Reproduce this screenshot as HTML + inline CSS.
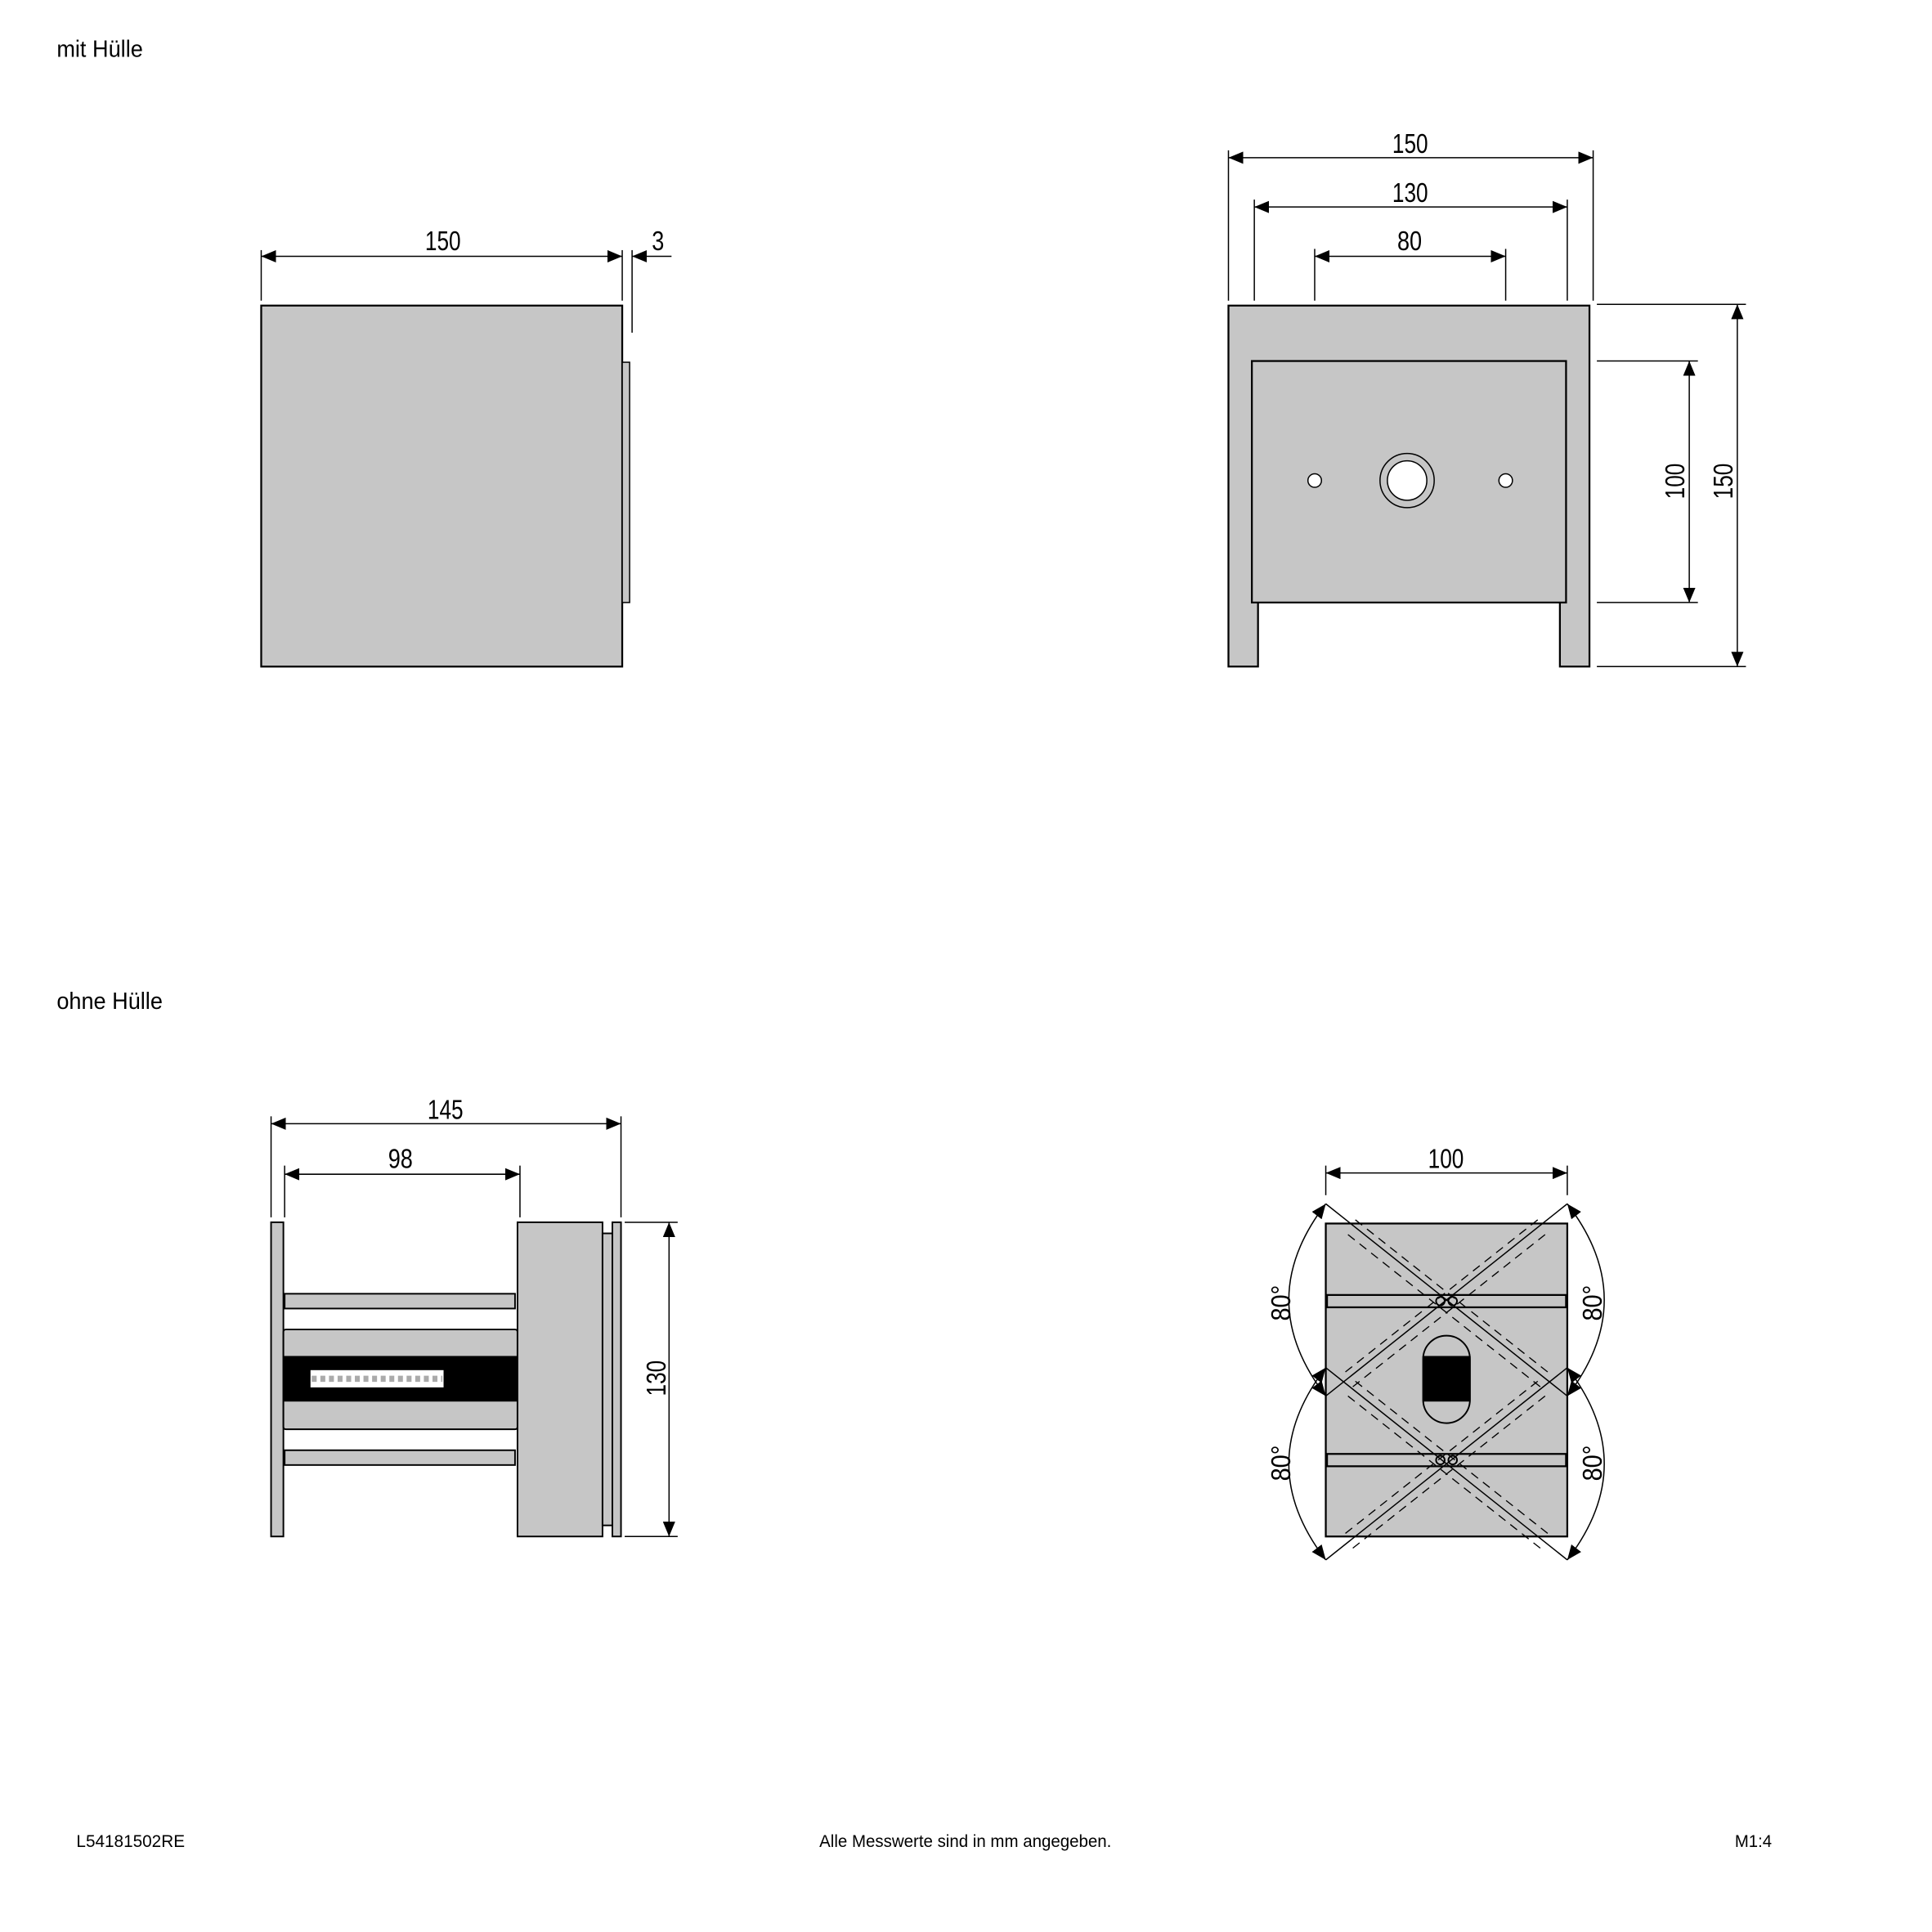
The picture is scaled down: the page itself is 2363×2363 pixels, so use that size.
<!DOCTYPE html>
<html><head><meta charset="utf-8"><style>
html,body{margin:0;padding:0;background:#fff;}
svg{display:block;}
text{font-family:"Liberation Sans",sans-serif;fill:#000;}
.d{font-size:22px;}
</style></head><body>
<svg width="2363" height="2363" viewBox="0 0 1568 1568" xmlns="http://www.w3.org/2000/svg">
<defs>
<marker id="a" viewBox="0 0 12 10" refX="12" refY="5" markerWidth="12" markerHeight="10" markerUnits="userSpaceOnUse" orient="auto-start-reverse"><path d="M0,0 L12,5 L0,10 Z" fill="#000"/></marker>
</defs>
<g stroke="#000" stroke-width="1" fill="none">
<!-- top-left -->
<line x1="212" y1="203" x2="212" y2="244"/><line x1="505" y1="203" x2="505" y2="244"/><line x1="513" y1="203" x2="513" y2="270"/>
<line x1="212" y1="208" x2="505" y2="208" marker-start="url(#a)" marker-end="url(#a)"/>
<line x1="545" y1="208" x2="513" y2="208" marker-end="url(#a)"/>
<rect x="212" y="248" width="293" height="293" fill="#c6c6c6" stroke-width="1.5"/>
<rect x="505" y="294" width="6" height="195" fill="#c6c6c6"/>
<!-- top-right -->
<line x1="997" y1="122" x2="997" y2="244"/><line x1="1293" y1="122" x2="1293" y2="244"/>
<line x1="1018" y1="162" x2="1018" y2="244"/><line x1="1272" y1="162" x2="1272" y2="244"/>
<line x1="1067" y1="202" x2="1067" y2="244"/><line x1="1222" y1="202" x2="1222" y2="244"/>
<line x1="997" y1="128" x2="1293" y2="128" marker-start="url(#a)" marker-end="url(#a)"/>
<line x1="1018" y1="168" x2="1272" y2="168" marker-start="url(#a)" marker-end="url(#a)"/>
<line x1="1067" y1="208" x2="1222" y2="208" marker-start="url(#a)" marker-end="url(#a)"/>
<path d="M997,248 H1290 V541 H1266 V489 H1021 V541 H997 Z" fill="#c6c6c6" stroke-width="1.5"/>
<rect x="1016" y="293" width="255" height="196" fill="#c6c6c6" stroke-width="1.5"/>
<circle cx="1142" cy="390" r="22"/><circle cx="1142" cy="390" r="16" fill="#fff"/>
<circle cx="1067" cy="390" r="5.5" fill="#fff"/><circle cx="1222" cy="390" r="5.5" fill="#fff"/>
<line x1="1296" y1="293" x2="1378" y2="293"/><line x1="1296" y1="489" x2="1378" y2="489"/>
<line x1="1296" y1="247" x2="1417" y2="247"/><line x1="1296" y1="541" x2="1417" y2="541"/>
<line x1="1371" y1="293" x2="1371" y2="489" marker-start="url(#a)" marker-end="url(#a)"/>
<line x1="1410" y1="247" x2="1410" y2="541" marker-start="url(#a)" marker-end="url(#a)"/>
<!-- bottom-left -->
<line x1="220" y1="906" x2="220" y2="988"/><line x1="504" y1="906" x2="504" y2="988"/>
<line x1="231" y1="946" x2="231" y2="988"/><line x1="422" y1="946" x2="422" y2="988"/>
<line x1="220" y1="912" x2="504" y2="912" marker-start="url(#a)" marker-end="url(#a)"/>
<line x1="231" y1="953" x2="422" y2="953" marker-start="url(#a)" marker-end="url(#a)"/>
<rect x="220" y="992" width="10" height="255" fill="#c6c6c6" stroke-width="1.3"/>
<rect x="231" y="1050" width="187" height="12" fill="#c6c6c6" stroke-width="1.3"/>
<rect x="231" y="1177" width="187" height="12" fill="#c6c6c6" stroke-width="1.3"/>
<rect x="230" y="1079" width="190" height="81" rx="2" fill="#c6c6c6" stroke-width="1.3"/>
<rect x="230" y="1101" width="190" height="36" fill="#000"/>
<rect x="252" y="1112" width="108" height="14" fill="#fff" stroke="none"/>
<line x1="253" y1="1119" x2="359" y2="1119" stroke="#aaa" stroke-width="5" stroke-dasharray="4,3"/>
<rect x="420" y="992" width="69" height="255" fill="#c6c6c6" stroke-width="1.3"/>
<rect x="489" y="1001" width="8" height="237" fill="#c6c6c6" stroke-width="1.3"/>
<rect x="497" y="992" width="7" height="255" fill="#c6c6c6" stroke-width="1.3"/>
<line x1="507" y1="992" x2="550" y2="992"/><line x1="507" y1="1247" x2="550" y2="1247"/>
<line x1="543" y1="992" x2="543" y2="1247" marker-start="url(#a)" marker-end="url(#a)"/>
<!-- bottom-right -->
<line x1="1076" y1="946" x2="1076" y2="970"/><line x1="1272" y1="946" x2="1272" y2="970"/>
<line x1="1076" y1="952" x2="1272" y2="952" marker-start="url(#a)" marker-end="url(#a)"/>
<rect x="1076" y="993" width="196" height="254" fill="#c6c6c6" stroke-width="1.5"/>
<rect x="1077" y="1051" width="194" height="10" fill="#c6c6c6" stroke-width="1.5"/>
<rect x="1077" y="1180" width="194" height="10" fill="#c6c6c6" stroke-width="1.5"/>
<path d="M1155,1103 A19,19 0 0 1 1193,1103 V1136 A19,19 0 0 1 1155,1136 Z" fill="#c6c6c6" stroke-width="1.3"/>
<rect x="1155" y="1101" width="38" height="36" fill="#000"/>
<g stroke-width="1">
<line x1="1076" y1="977" x2="1272" y2="1133"/><line x1="1272" y1="977" x2="1076" y2="1133"/>
<line x1="1076" y1="1110" x2="1272" y2="1266"/><line x1="1272" y1="1110" x2="1076" y2="1266"/>
</g>
<g stroke-width="0.9" stroke-dasharray="7,5">
<line x1="1100" y1="990" x2="1258" y2="1115"/><line x1="1094" y1="1002" x2="1252" y2="1127"/>
<line x1="1248" y1="990" x2="1090" y2="1115"/><line x1="1254" y1="1002" x2="1096" y2="1127"/>
<line x1="1100" y1="1121" x2="1258" y2="1246"/><line x1="1094" y1="1133" x2="1252" y2="1258"/>
<line x1="1248" y1="1121" x2="1090" y2="1246"/><line x1="1254" y1="1133" x2="1096" y2="1258"/>
</g>
<circle cx="1169" cy="1056" r="3.5" stroke-width="1.3"/><circle cx="1179" cy="1056" r="3.5" stroke-width="1.3"/>
<circle cx="1169" cy="1185" r="3.5" stroke-width="1.3"/><circle cx="1179" cy="1185" r="3.5" stroke-width="1.3"/>
<path d="M1076,977 Q1016,1055 1076,1133" marker-start="url(#a)" marker-end="url(#a)"/>
<path d="M1076,1110 Q1016,1188 1076,1266" marker-start="url(#a)" marker-end="url(#a)"/>
<path d="M1272,977 Q1332,1055 1272,1133" marker-start="url(#a)" marker-end="url(#a)"/>
<path d="M1272,1110 Q1332,1188 1272,1266" marker-start="url(#a)" marker-end="url(#a)"/>
</g>
<!-- text -->
<text x="46" y="46" font-size="19" textLength="70" lengthAdjust="spacingAndGlyphs">mit Hülle</text>
<text x="46" y="819" font-size="19" textLength="86" lengthAdjust="spacingAndGlyphs">ohne Hülle</text>
<text class="d" x="345" y="203" textLength="29" lengthAdjust="spacingAndGlyphs">150</text>
<text class="d" x="529" y="203" textLength="10" lengthAdjust="spacingAndGlyphs">3</text>
<text class="d" x="1130" y="124" textLength="29" lengthAdjust="spacingAndGlyphs">150</text>
<text class="d" x="1130" y="164" textLength="29" lengthAdjust="spacingAndGlyphs">130</text>
<text class="d" x="1134" y="203" textLength="20" lengthAdjust="spacingAndGlyphs">80</text>
<text class="d" transform="translate(1367,405) rotate(-90)" textLength="29" lengthAdjust="spacingAndGlyphs">100</text>
<text class="d" transform="translate(1406,405) rotate(-90)" textLength="29" lengthAdjust="spacingAndGlyphs">150</text>
<text class="d" x="347" y="908" textLength="29" lengthAdjust="spacingAndGlyphs">145</text>
<text class="d" x="315" y="948" textLength="20" lengthAdjust="spacingAndGlyphs">98</text>
<text class="d" transform="translate(540,1133) rotate(-90)" textLength="29" lengthAdjust="spacingAndGlyphs">130</text>
<text class="d" x="1159" y="948" textLength="29" lengthAdjust="spacingAndGlyphs">100</text>
<text class="d" transform="translate(1047,1072) rotate(-90)" textLength="29" lengthAdjust="spacingAndGlyphs">80°</text>
<text class="d" transform="translate(1047,1202) rotate(-90)" textLength="29" lengthAdjust="spacingAndGlyphs">80°</text>
<text class="d" transform="translate(1300,1072) rotate(-90)" textLength="29" lengthAdjust="spacingAndGlyphs">80°</text>
<text class="d" transform="translate(1300,1202) rotate(-90)" textLength="29" lengthAdjust="spacingAndGlyphs">80°</text>
<text x="62" y="1499" font-size="14" textLength="88" lengthAdjust="spacingAndGlyphs">L54181502RE</text>
<text x="665" y="1499" font-size="14" textLength="237" lengthAdjust="spacingAndGlyphs">Alle Messwerte sind in mm angegeben.</text>
<text x="1408" y="1499" font-size="14" textLength="30" lengthAdjust="spacingAndGlyphs">M1:4</text>
</svg>
</body></html>
